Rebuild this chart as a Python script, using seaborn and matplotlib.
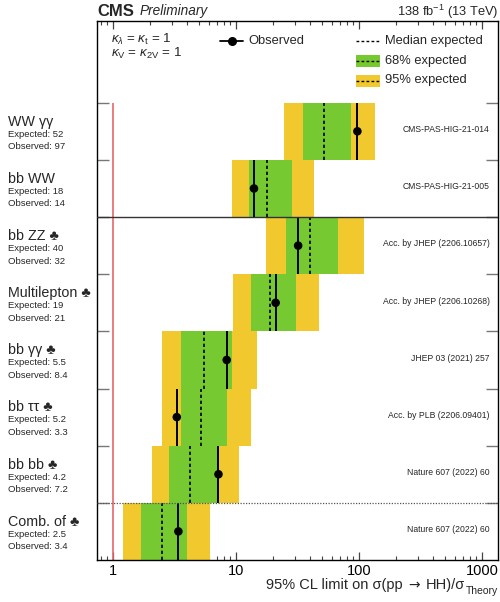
import numpy as np
import pandas as pd
import matplotlib
matplotlib.use("Agg")
import matplotlib.pyplot as plt
import matplotlib.transforms as mtransforms
from matplotlib.patches import Rectangle
from matplotlib.ticker import FuncFormatter, LogLocator
import seaborn as sns

# HH search channels, listed from top to bottom
channels = ["WW γγ", "bb WW", "bb ZZ ♣", "Multilepton ♣", "bb γγ ♣", "bb ττ ♣",
            "bb bb ♣", "Comb. of ♣"]
expected = [52, 18, 40, 19, 5.5, 5.2, 4.2, 2.5]
observed = [97, 14, 32, 21, 8.4, 3.3, 7.2, 3.4]
lo68 = [35.1, 12.8, 25.5, 13.2, 3.57, 3.57, 2.87, 1.69]
hi68 = [86.0, 28.7, 67.0, 30.8, 9.3, 8.4, 7.2, 3.97]
lo95 = [24.7, 9.33, 17.5, 9.4, 2.49, 2.52, 2.06, 1.21]
hi95 = [135.0, 43.0, 110.0, 47.3, 14.9, 13.2, 10.6, 6.15]
references = ["CMS-PAS-HIG-21-014", "CMS-PAS-HIG-21-005", "Acc. by JHEP (2206.10657)",
              "Acc. by JHEP (2206.10268)", "JHEP 03 (2021) 257", "Acc. by PLB (2206.09401)",
              "Nature 607 (2022) 60", "Nature 607 (2022) 60"]
xticks = [1, 10, 100, 1000]

sns.set_theme(style="ticks")
plt.rcParams["font.family"] = ["Liberation Sans", "DejaVu Sans"]
plt.rcParams["mathtext.fontset"] = "custom"
plt.rcParams["mathtext.rm"] = "Liberation Sans"
plt.rcParams["mathtext.it"] = "Liberation Sans:italic"
plt.rcParams["mathtext.bf"] = "Liberation Sans:bold"

GREEN = "#77C932"
YELLOW = "#F1C92F"
RED = "#E8676B"

n = len(channels)
df = pd.DataFrame({
    "channel": channels,
    "expected": expected,
    "observed": observed,
    "lo68": lo68, "hi68": hi68, "lo95": lo95, "hi95": hi95,
    "ref": references,
})
# row k (from the bottom) spans [k, k+1]
df["ybot"] = n - 1 - np.arange(n)
df["ymid"] = df["ybot"] + 0.5

W, H = 500, 602
fig = plt.figure(figsize=(W / 100, H / 100), dpi=100)
ax_left, ax_right, ax_top, ax_bot = 97.3, 498.0, 21.0, 560.0
ax = fig.add_axes([ax_left / W, 1 - ax_bot / H, (ax_right - ax_left) / W, (ax_bot - ax_top) / H])
ax.set_xscale("log")
ax.set_xlim(0.745, 1349)
ytop = n + 1.43
ax.set_ylim(0, ytop)

# expected bands
ax.barh(df["ybot"], df["hi95"] - df["lo95"], left=df["lo95"], height=1.0, align="edge",
        color=YELLOW, linewidth=0, zorder=1)
ax.barh(df["ybot"], df["hi68"] - df["lo68"], left=df["lo68"], height=1.0, align="edge",
        color=GREEN, linewidth=0, zorder=2)
# median expected and observed lines
ax.vlines(df["expected"], df["ybot"], df["ybot"] + 1, colors="black", linestyles=(0, (2, 1.6)),
          linewidth=1.2, zorder=3)
ax.vlines(df["observed"], df["ybot"], df["ybot"] + 1, colors="black", linewidth=1.4, zorder=4)
sns.scatterplot(data=df, x="observed", y="ymid", color="black", s=38, edgecolor="none",
                zorder=5, ax=ax, legend=False)

# SM reference line
ax.vlines(1, 0, n, colors=RED, linewidth=1.2, zorder=2)
# separators
ax.axhline(n - 2, color="#333333", linewidth=1.0, zorder=6)
ax.axhline(1, color="#555555", linewidth=0.9, linestyle=(0, (1, 1.2)), zorder=6)

# axes styling
for sp in ax.spines.values():
    sp.set_color("black")
    sp.set_linewidth(1.0)
ax.xaxis.set_minor_locator(LogLocator(base=10, subs=np.arange(2, 10), numticks=20))
ax.set_xticks(xticks)
ax.xaxis.set_major_formatter(FuncFormatter(lambda v, p: f"{v:g}"))
ax.xaxis.set_minor_formatter(FuncFormatter(lambda v, p: ""))
ax.tick_params(axis="x", which="major", direction="in", top=True, bottom=True, length=6,
               width=0.9, color="#444444", labelsize=10.5, pad=3, labelcolor="black")
ax.tick_params(axis="x", which="minor", direction="in", top=True, bottom=True, length=3,
               width=0.8, color="#444444")
ax.set_yticks(list(range(1, n + 1)))
ax.tick_params(axis="y", which="major", direction="in", left=True, right=True, length=8.6,
               width=1.0, color="#777777", labelleft=False)
ax.tick_params(axis="y", which="minor", left=False, right=False)
ax.set_xlabel("")
ax.set_ylabel("")
ax.grid(False)

# x-axis title, laid out right to left from the axes' right edge
renderer = fig.canvas.get_renderer()
label_y = 1 - 585 / H
pieces = [
    ("Theory", 7.5, 1 - 591 / H, ["Liberation Sans"], 0.5),
    ("HH)/σ", 10.5, label_y, ["Liberation Sans", "DejaVu Sans"], 6),
    ("→", 10.0, label_y, ["DejaVu Sans"], 6),
    ("95% CL limit on σ(pp", 10.5, label_y, ["Liberation Sans", "DejaVu Sans"], 0),
]
right_px = ax_right
for txt, size, yy, fam, gap in pieces:
    t = fig.text(right_px / W, yy, txt, fontsize=size, ha="right", va="center", family=fam)
    right_px = t.get_window_extent(renderer).x0 - gap

# channel labels on the left, references on the right
lab_tr = mtransforms.blended_transform_factory(fig.transFigure, ax.transData)
ref_tr = mtransforms.blended_transform_factory(ax.transAxes, ax.transData)
for _, r in df.iterrows():
    top = r["ybot"] + 1
    ax.text(8 / W, top - 0.33, r["channel"], transform=lab_tr, ha="left", va="center",
            fontsize=10.3, clip_on=False)
    ax.text(8 / W, top - 0.55, f"Expected: {r['expected']:g}", transform=lab_tr, ha="left",
            va="center", fontsize=6.8, clip_on=False)
    ax.text(8 / W, top - 0.77, f"Observed: {r['observed']:g}", transform=lab_tr, ha="left",
            va="center", fontsize=6.8, clip_on=False)
    ax.text(0.98, r["ymid"] + 0.03, r["ref"], transform=ref_tr, ha="right", va="center",
            fontsize=6.2)

# header
fig.text(ax_left / W, 1 - 11 / H, "CMS", fontsize=12, fontweight="bold", ha="left", va="center")
fig.text(140 / W, 1 - 11.5 / H, "Preliminary", fontsize=9.8, style="italic", ha="left",
         va="center")
fig.text(ax_right / W, 1 - 11.5 / H, r"138 fb$^{-1}$ (13 TeV)", fontsize=9.3, ha="right",
         va="center")

# coupling assumptions
fig.text(111 / W, 1 - 39 / H, r"$\kappa_\lambda$ = $\kappa_\mathrm{t}$ = 1", fontsize=9.6,
         ha="left", va="center")
fig.text(111 / W, 1 - 53 / H, r"$\kappa_\mathrm{V}$ = $\kappa_\mathrm{2V}$ = 1", fontsize=9.6,
         ha="left", va="center")

# legend
def fx(px):
    return px / W


def fy(px):
    return 1 - px / H


ft = fig.transFigure
fig.add_artist(plt.Line2D([fx(220), fx(243)], [fy(41), fy(41)], color="black", lw=1.3,
                          transform=ft))
fig.add_artist(plt.Line2D([fx(231.5)], [fy(41)], marker="o", ms=5.5, color="black",
                          transform=ft))
fig.text(fx(248), fy(41), "Observed", fontsize=9.3, ha="left", va="center")

fig.add_artist(plt.Line2D([fx(356), fx(380)], [fy(41), fy(41)], color="black", lw=1.0,
                          linestyle=(0, (2, 1.6)), transform=ft))
fig.text(fx(385), fy(41), "Median expected", fontsize=9.3, ha="left", va="center")
for yc, col, txt in [(61, GREEN, "68% expected"), (80.5, YELLOW, "95% expected")]:
    fig.add_artist(Rectangle((fx(356), fy(yc + 6)), fx(380) - fx(356), fy(yc - 6) - fy(yc + 6),
                             facecolor=col, edgecolor="none", transform=ft))
    fig.add_artist(plt.Line2D([fx(356), fx(380)], [fy(yc), fy(yc)], color="black", lw=1.0,
                              linestyle=(0, (2, 1.6)), transform=ft))
    fig.text(fx(385), fy(yc), txt, fontsize=9.3, ha="left", va="center")

fig.savefig("out.png", dpi=100)
